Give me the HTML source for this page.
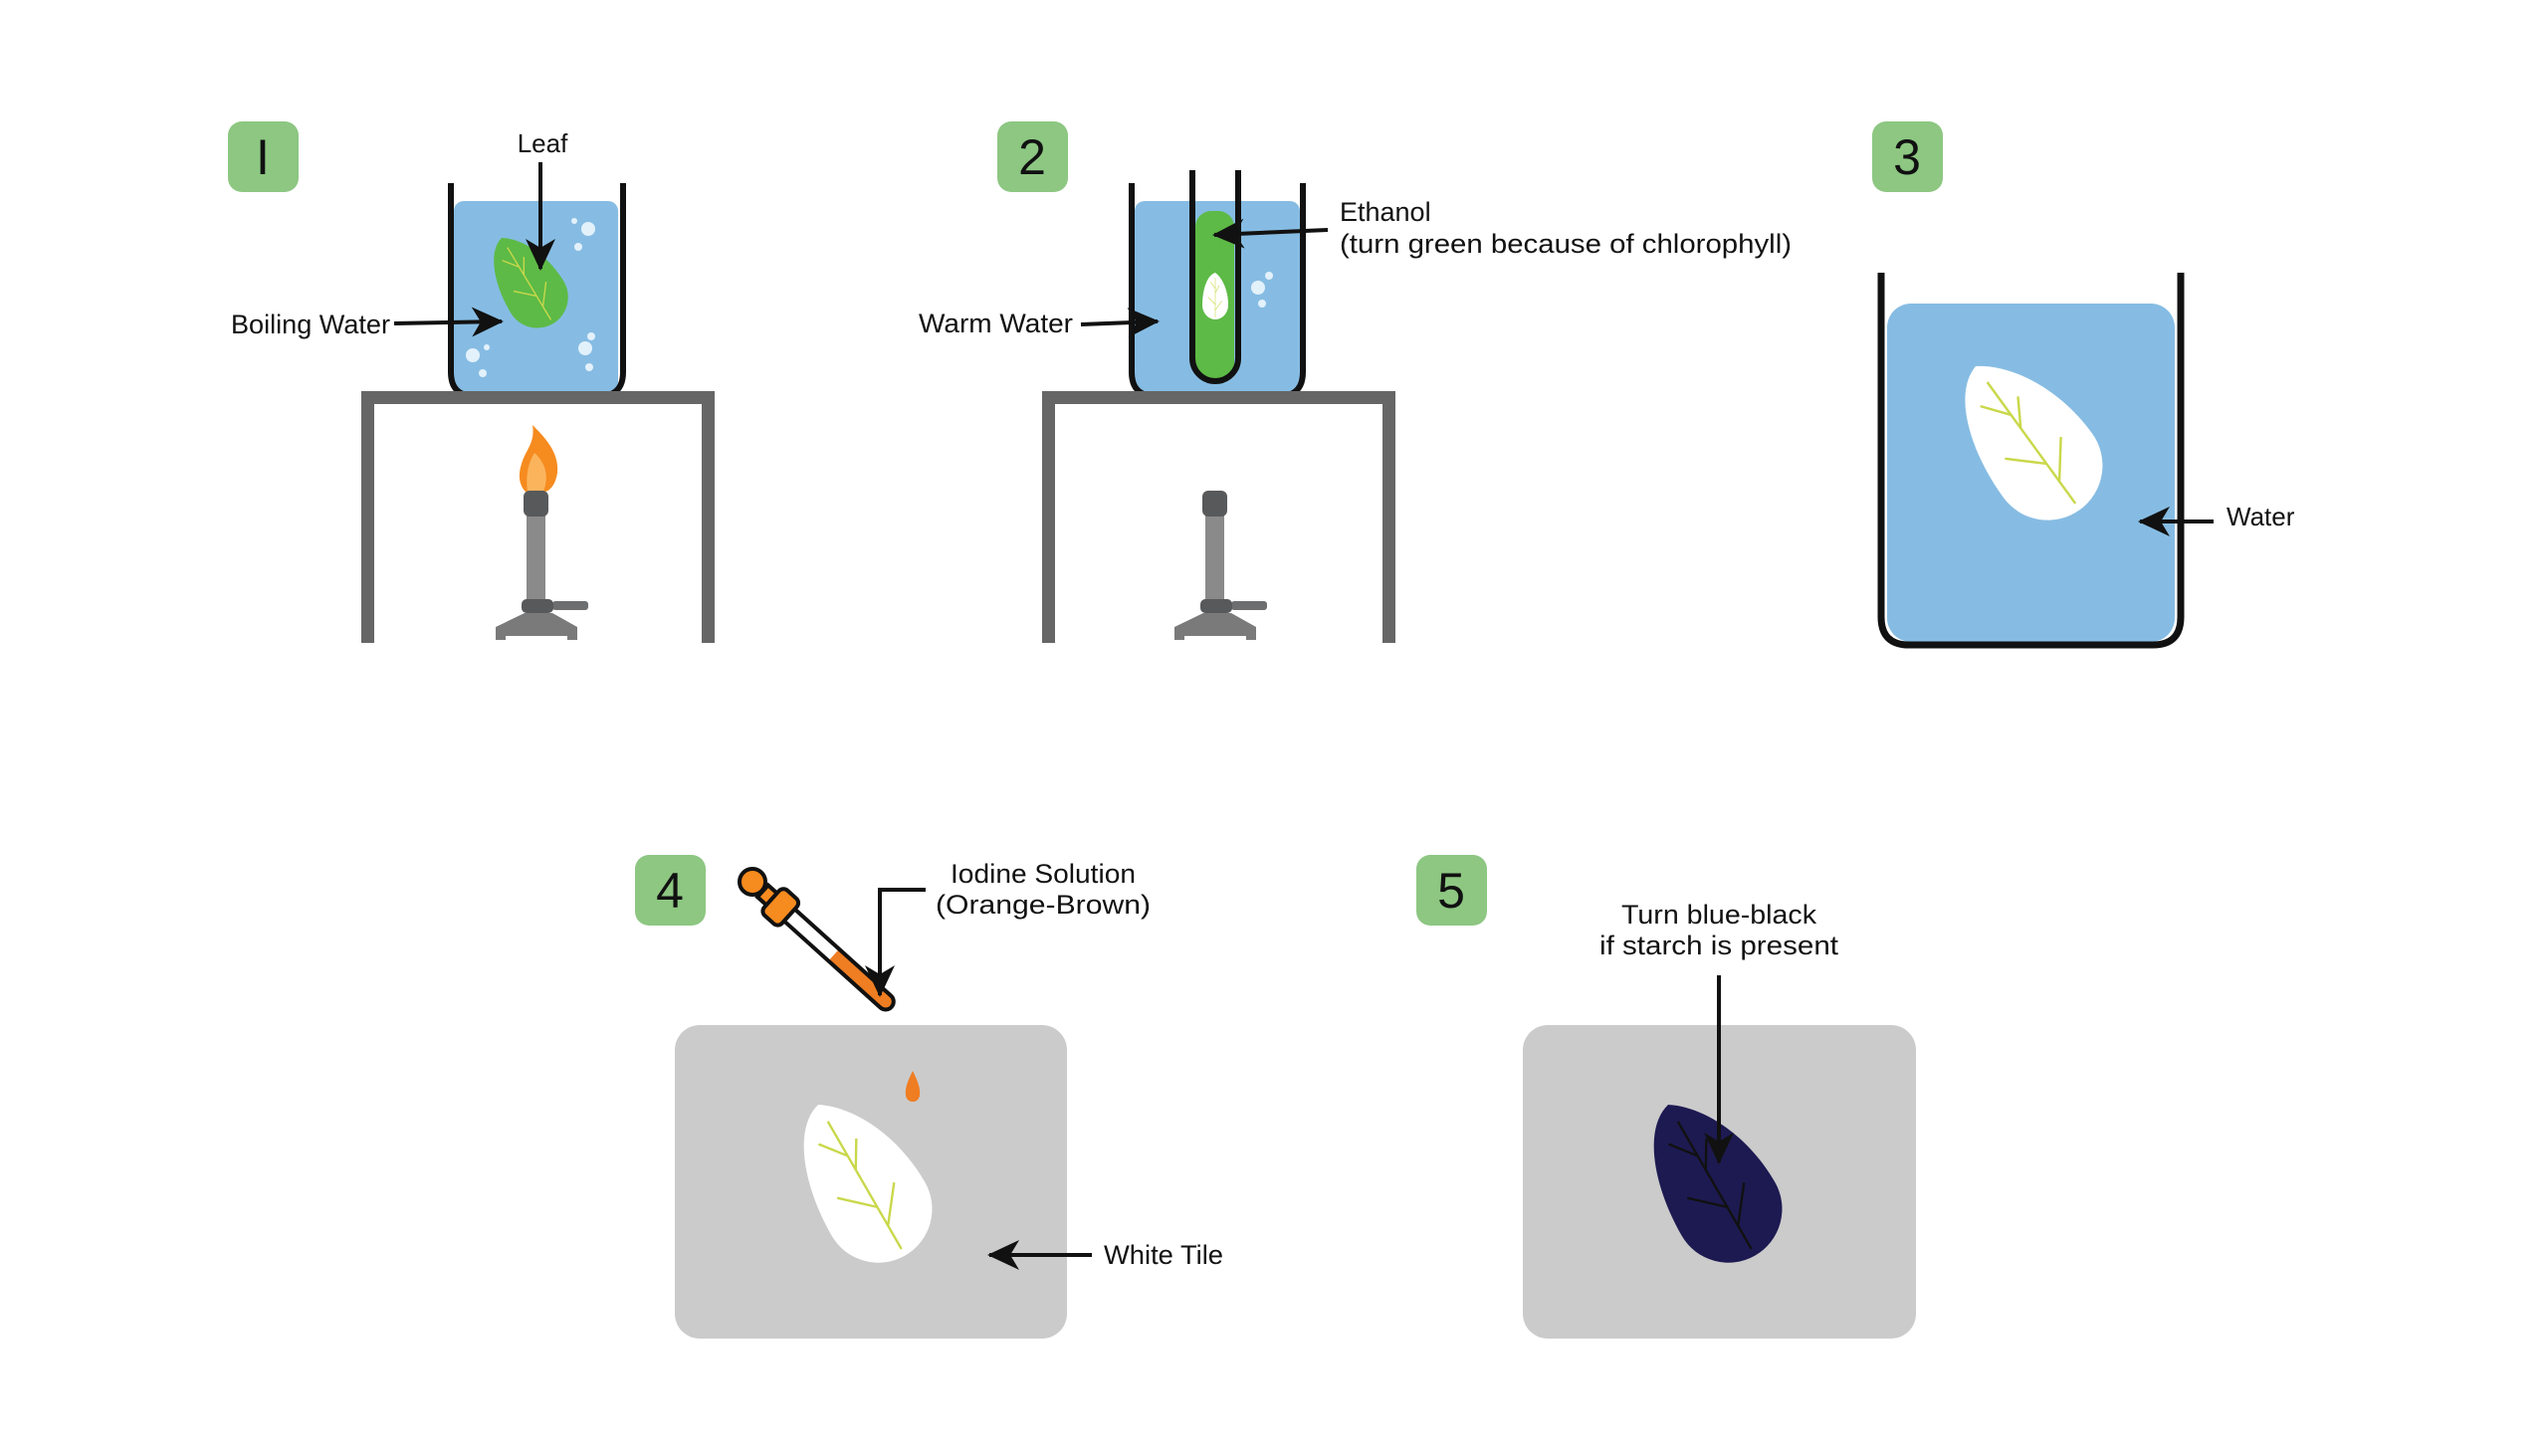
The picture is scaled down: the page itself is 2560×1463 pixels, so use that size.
<!DOCTYPE html>
<html><head><meta charset="utf-8"><style>
html,body{margin:0;padding:0;background:#fff}
svg{display:block}
text{font-family:"Liberation Sans",sans-serif;fill:#111}
</style></head><body>
<svg width="2560" height="1463" viewBox="0 0 2560 1463" xmlns="http://www.w3.org/2000/svg">
<defs>
<marker id="ah" markerUnits="userSpaceOnUse" markerWidth="40" markerHeight="40" refX="30" refY="20" orient="auto">
<path d="M0,5 L32,20 L0,35 L9,20 Z" fill="#111"/>
</marker>
<path id="leaf" d="M0,0 C28,18 50,62 50,112 A50,50 0 0 1 -50,112 C-50,60 -32,8 0,0 Z"/>
<g id="veins" fill="none" stroke-width="2.2">
<path d="M0,18 V155 M0,55 L-18,32 M0,70 L15,45 M0,110 L-28,84 M0,130 L25,98"/>
</g>
<g id="burner">
<rect x="529" y="516" width="19" height="88" fill="#8a8a8a"/>
<rect x="526" y="493" width="25" height="26" rx="6" fill="#58595b"/>
<rect x="555" y="604" width="36" height="9" rx="3" fill="#6d6e70"/>
<rect x="524" y="602" width="32" height="14" rx="5" fill="#58595b"/>
<path d="M527,616 H555 L580,630 V643 H570 V639 H508 V643 H498 V630 Z" fill="#7a7a7a"/>
</g>
</defs>

<g fill="#8dc782">
<rect x="229" y="122" width="71" height="71" rx="14"/>
<rect x="1002" y="122" width="71" height="71" rx="14"/>
<rect x="1881" y="122" width="71" height="71" rx="14"/>
<rect x="638" y="859" width="71" height="71" rx="14"/>
<rect x="1423" y="859" width="71" height="71" rx="14"/>
</g>
<g font-size="50" text-anchor="middle">
<text x="264" y="175">I</text>
<text x="1037" y="175">2</text>
<text x="1916" y="175">3</text>
<text x="673" y="912">4</text>
<text x="1458" y="912">5</text>
</g>

<!-- Panel 1 -->
<rect x="456" y="202" width="165" height="192" rx="10" fill="#86bce3"/>
<g fill="#e3f1fb">
<circle cx="591" cy="230" r="7"/><circle cx="577" cy="222" r="3"/><circle cx="581" cy="248" r="4"/>
<circle cx="588" cy="350" r="7"/><circle cx="594" cy="338" r="4"/><circle cx="592" cy="369" r="4"/>
<circle cx="475" cy="357" r="7"/><circle cx="489" cy="349" r="3"/><circle cx="485" cy="375" r="4"/>
</g>
<g transform="translate(504,239) rotate(-31) scale(0.62)">
<use href="#leaf" fill="#5dba46"/><use href="#veins" stroke="#c9d84a"/>
</g>
<path d="M453,184 V374 Q453,398 477,398 H602 Q626,398 626,374 V184" fill="none" stroke="#111" stroke-width="6"/>
<g fill="#666">
<rect x="363" y="393" width="355" height="13"/>
<rect x="363" y="393" width="13" height="253"/>
<rect x="705" y="393" width="13" height="253"/>
</g>
<path d="M535,427 C548,440 562,455 560,475 C558,488 552,493 548,494 H528 C522,488 520,478 524,466 C528,452 538,445 535,427 Z" fill="#f68b1f"/>
<path d="M537,455 C548,465 552,478 546,494 H530 C528,480 530,466 537,455 Z" fill="#fbb45c"/>
<use href="#burner"/>
<text x="545" y="153" font-size="26" text-anchor="middle">Leaf</text>
<line x1="543" y1="163" x2="543" y2="270" stroke="#111" stroke-width="4" marker-end="url(#ah)"/>
<text x="232" y="335" font-size="27" textLength="160" lengthAdjust="spacingAndGlyphs">Boiling Water</text>
<line x1="396" y1="325" x2="504" y2="323" stroke="#111" stroke-width="4" marker-end="url(#ah)"/>

<!-- Panel 2 -->
<rect x="1140" y="202" width="166" height="192" rx="10" fill="#86bce3"/>
<g fill="#e3f1fb"><circle cx="1264" cy="289" r="7"/><circle cx="1275" cy="277" r="4"/><circle cx="1268" cy="305" r="4"/></g>
<rect x="1201" y="212" width="39" height="170" rx="16" fill="#5dba46"/>
<g transform="translate(1221,274) scale(0.26,0.29)">
<use href="#leaf" fill="#fff"/><use href="#veins" stroke="#c9d84a"/>
</g>
<path d="M1198,171 V360 A23,23 0 0 0 1244,360 V171" fill="none" stroke="#111" stroke-width="6"/>
<path d="M1137,184 V374 Q1137,398 1161,398 H1285 Q1309,398 1309,374 V184" fill="none" stroke="#111" stroke-width="6"/>
<g fill="#666">
<rect x="1047" y="393" width="355" height="13"/>
<rect x="1047" y="393" width="13" height="253"/>
<rect x="1389" y="393" width="13" height="253"/>
</g>
<use href="#burner" transform="translate(682,0)"/>
<text x="1346" y="222" font-size="27">Ethanol</text>
<text x="1346" y="254" font-size="27" textLength="454" lengthAdjust="spacingAndGlyphs">(turn green because of chlorophyll)</text>
<line x1="1334" y1="231" x2="1220" y2="236" stroke="#111" stroke-width="4" marker-end="url(#ah)"/>
<text x="923" y="334" font-size="27" textLength="155" lengthAdjust="spacingAndGlyphs">Warm Water</text>
<line x1="1086" y1="326" x2="1163" y2="323" stroke="#111" stroke-width="4" marker-end="url(#ah)"/>

<!-- Panel 3 -->
<rect x="1896" y="305" width="289" height="340" rx="24" fill="#86bce3"/>
<g transform="translate(1985,368) rotate(-36) scale(1.1)">
<use href="#leaf" fill="#fff"/><use href="#veins" stroke="#c9d84a"/>
</g>
<path d="M1890,274 V620 Q1890,648 1918,648 H2163 Q2191,648 2191,620 V274" fill="none" stroke="#111" stroke-width="7"/>
<text x="2237" y="528" font-size="26">Water</text>
<line x1="2224" y1="524" x2="2150" y2="524" stroke="#111" stroke-width="4" marker-end="url(#ah)"/>

<!-- Panel 4 -->
<rect x="678" y="1030" width="394" height="315" rx="25" fill="#cbcbcb"/>
<g transform="translate(822,1110) rotate(-30) scale(1.08)">
<use href="#leaf" fill="#fff"/><use href="#veins" stroke="#c9d84a"/>
</g>
<path d="M917,1076 C912,1086 909,1094 910,1100 A7,7 0 0 0 924,1100 C925,1094 922,1086 917,1076 Z" fill="#ef7d22"/>
<g transform="translate(756,886) rotate(42)">
<rect x="20" y="-8" width="168" height="16" rx="8" fill="#fff"/>
<path d="M110,-8 H180 A8,8 0 0 1 180,8 H110 Z" fill="#ef7d22"/>
<rect x="20" y="-8" width="168" height="16" rx="8" fill="none" stroke="#111" stroke-width="4"/>
<circle cx="0" cy="0" r="13" fill="#f68b1f" stroke="#111" stroke-width="4"/>
<rect x="14" y="-8" width="14" height="16" fill="#f68b1f" stroke="#111" stroke-width="4"/>
<rect x="26" y="-17" width="24" height="34" rx="6" fill="#f68b1f" stroke="#111" stroke-width="4"/>
<circle cx="0" cy="0" r="10" fill="#f68b1f"/>
</g>
<text x="1048" y="887" font-size="27" text-anchor="middle" textLength="186" lengthAdjust="spacingAndGlyphs">Iodine Solution</text>
<text x="1048" y="918" font-size="27" text-anchor="middle" textLength="216" lengthAdjust="spacingAndGlyphs">(Orange-Brown)</text>
<polyline points="930,894 884,894 884,1000" fill="none" stroke="#111" stroke-width="4" marker-end="url(#ah)"/>
<text x="1109" y="1270" font-size="27" textLength="120" lengthAdjust="spacingAndGlyphs">White Tile</text>
<line x1="1097" y1="1261" x2="994" y2="1261" stroke="#111" stroke-width="4" marker-end="url(#ah)"/>

<!-- Panel 5 -->
<rect x="1530" y="1030" width="395" height="315" rx="25" fill="#cbcbcb"/>
<g transform="translate(1676,1110) rotate(-30) scale(1.08)">
<use href="#leaf" fill="#1d1a52"/><use href="#veins" stroke="#111"/>
</g>
<text x="1727" y="928" font-size="27" text-anchor="middle" textLength="196" lengthAdjust="spacingAndGlyphs">Turn blue-black</text>
<text x="1727" y="959" font-size="27" text-anchor="middle" textLength="240" lengthAdjust="spacingAndGlyphs">if starch is present</text>
<line x1="1727" y1="980" x2="1727" y2="1168" stroke="#111" stroke-width="4" marker-end="url(#ah)"/>
</svg>
</body></html>
